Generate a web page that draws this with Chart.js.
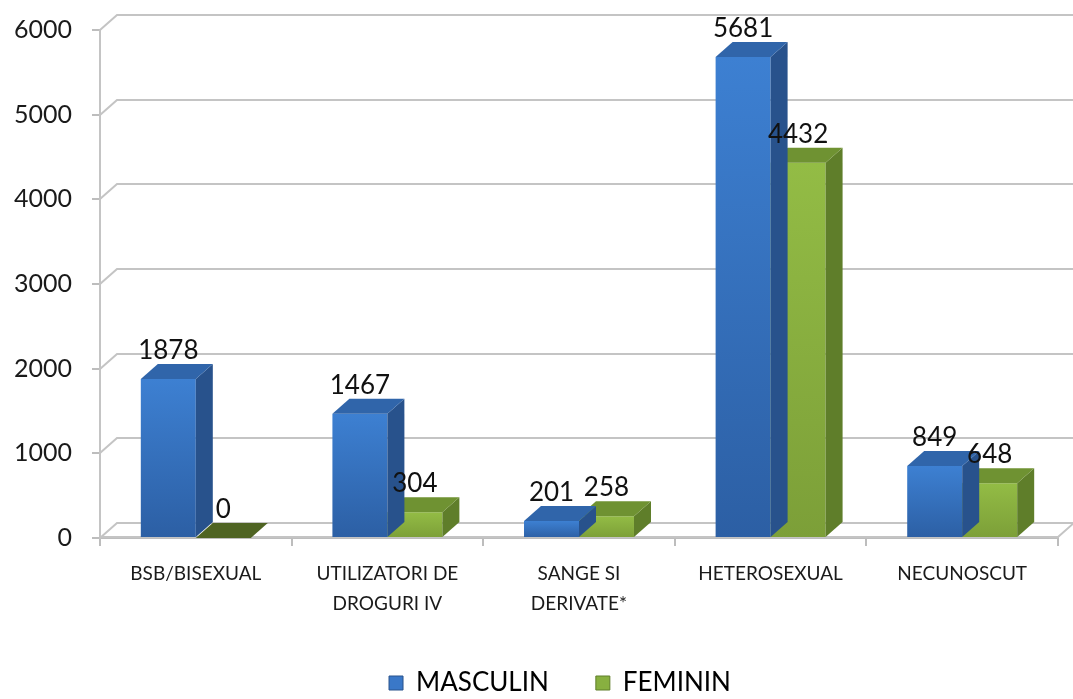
<!DOCTYPE html>
<html><head><meta charset="utf-8">
<script src="https://cdn.jsdelivr.net/npm/chart.js@4.4.0/dist/chart.umd.min.js"></script>
<style>html,body{margin:0;padding:0;background:#fff}#wrap{width:1073px;height:699px}</style>
</head><body><div id="wrap"><canvas id="c" width="1073" height="699"></canvas></div>
<script>
const categories = [["BSB/BISEXUAL"],["UTILIZATORI DE","DROGURI IV"],["SANGE SI","DERIVATE*"],["HETEROSEXUAL"],["NECUNOSCUT"]];
const seriesNames = ["MASCULIN","FEMININ"];
const masculin = [1878,1467,201,5681,849];
const feminin = [0,304,258,4432,648];
const yMin = 0, yMax = 6000, yStep = 1000;

const DX = 17, DY = 15;
const FONT = "Lato, 'Open Sans', sans-serif";
const styles = [
  {top:'#3d80d2', bottom:'#2c5fa4', side:'#28528c', cap:'#3065aa', solid:'#3a78c8'},
  {top:'#93bc45', bottom:'#7c9f38', side:'#5f7e2a', cap:'#6f9232', solid:'#88b040', capZero:'#4f6423'}
];

function frontFill(i){
  return function(ctx){
    const s = styles[i];
    if (ctx.type !== 'data') return s.solid;
    const ch = ctx.chart, ys = ch.scales.y;
    if (!ys || !ch.chartArea) return s.solid;
    const yt = ys.getPixelForValue(ctx.raw), yb = ys.getPixelForValue(0);
    if (!isFinite(yt) || !isFinite(yb) || yb - yt < 1) return s.solid;
    const g = ch.ctx.createLinearGradient(0, yt, 0, yb);
    g.addColorStop(0, s.top); g.addColorStop(1, s.bottom);
    return g;
  };
}

const threeD = {
  id: 'threeD',
  afterLayout(chart){
    if (chart.legend){ chart.legend.left += 31; chart.legend.right += 31; }
  },
  beforeDatasetsDraw(chart){
    const {ctx, chartArea:{left,right,bottom}} = chart;
    const ys = chart.scales.y;
    ctx.save();
    ctx.strokeStyle = '#c4c4c4';
    ctx.lineWidth = 2;
    for (let v = yMin; v <= yMax; v += yStep){
      const y = Math.round(ys.getPixelForValue(v));
      ctx.beginPath();
      ctx.moveTo(left, y);
      ctx.lineTo(left + DX, y - DY);
      ctx.lineTo(right + DX, y - DY);
      ctx.stroke();
    }
    ctx.beginPath();
    ctx.moveTo(left, bottom - 1);
    ctx.lineTo(right, bottom - 1);
    ctx.lineTo(right + DX, bottom - 1 - DY);
    ctx.stroke();
    ctx.restore();
  },
  afterDatasetDraw(chart, args){
    const {ctx} = chart;
    const i = args.index, s = styles[i];
    const meta = args.meta;
    ctx.save();
    meta.data.forEach((el) => {
      const p = el.getProps(['x','y','base','width'], true);
      const x1 = p.x - p.width/2, x2 = p.x + p.width/2;
      const y = p.y, b = p.base;
      if (b - y > 0.5){
        ctx.fillStyle = s.side;
        ctx.beginPath();
        ctx.moveTo(x2, y); ctx.lineTo(x2 + DX, y - DY);
        ctx.lineTo(x2 + DX, b - DY); ctx.lineTo(x2, b);
        ctx.closePath(); ctx.fill();
      }
      const zero = (b - y) <= 0.5;
      ctx.fillStyle = zero && s.capZero ? s.capZero : s.cap;
      ctx.beginPath();
      ctx.moveTo(x1, y); ctx.lineTo(x2, y);
      ctx.lineTo(x2 + DX, y - DY); ctx.lineTo(x1 + DX, y - DY);
      ctx.closePath(); ctx.fill();
    });
    ctx.restore();
  },
  afterDatasetsDraw(chart){
    const {ctx} = chart;
    ctx.save();
    ctx.font = "26px " + FONT;
    ctx.fillStyle = '#111';
    ctx.textAlign = 'center';
    ctx.textBaseline = 'alphabetic';
    chart.data.datasets.forEach((ds, i) => {
      chart.getDatasetMeta(i).data.forEach((el, k) => {
        const p = el.getProps(['x','y'], true);
        ctx.fillText(String(ds.data[k]), p.x, p.y - DY - 5);
      });
    });
    ctx.restore();
  }
};

new Chart(document.getElementById('c'), {
  type: 'bar',
  data: {
    labels: categories,
    datasets: [
      {label: seriesNames[0], data: masculin, backgroundColor: frontFill(0), borderWidth: 0},
      {label: seriesNames[1], data: feminin, backgroundColor: frontFill(1), borderWidth: 0}
    ]
  },
  options: {
    responsive: false,
    animation: false,
    devicePixelRatio: 1,
    categoryPercentage: 0.574,
    barPercentage: 1.0,
    layout: {padding: {left: 0, top: 30, right: 15, bottom: -7}},
    plugins: {
      tooltip: {enabled: false},
      legend: {
        position: 'bottom',
        labels: {
          font: {family: FONT, size: 26},
          color: '#111',
          boxWidth: 14, boxHeight: 14,
          padding: 47,
          generateLabels(chart){
            return chart.data.datasets.map((d, i) => ({
              text: d.label, fillStyle: styles[i].solid, strokeStyle: styles[i].side,
              lineWidth: 1, datasetIndex: i, hidden: false
            }));
          }
        }
      }
    },
    scales: {
      x: {
        type: 'category',
        offset: true,
        grid: {display: true, drawOnChartArea: false, drawTicks: true, tickLength: 8, color: '#bdbdbd', offset: true, lineWidth: 2},
        border: {display: true, color: '#bdbdbd', width: 2},
        ticks: {font: {family: FONT, size: 19, lineHeight: 1.58}, color: '#1a1a1a', padding: 13, maxRotation: 0, autoSkip: false},
        afterFit(s){ s.height = 85; s.paddingTop = 0; s.paddingBottom = 0; }
      },
      y: {
        min: yMin, max: yMax,
        grid: {display: true, drawOnChartArea: false, drawTicks: true, tickLength: 8, color: '#bdbdbd', lineWidth: 2},
        border: {display: true, color: '#c4c4c4', width: 2},
        ticks: {stepSize: yStep, font: {family: FONT, size: 25}, color: '#1a1a1a', padding: 20,
                callback: (v) => String(v)},
        afterFit(s){ s.width = 100; s.paddingTop = 0; s.paddingBottom = 0; }
      }
    }
  },
  plugins: [threeD]
});
</script></body></html>
